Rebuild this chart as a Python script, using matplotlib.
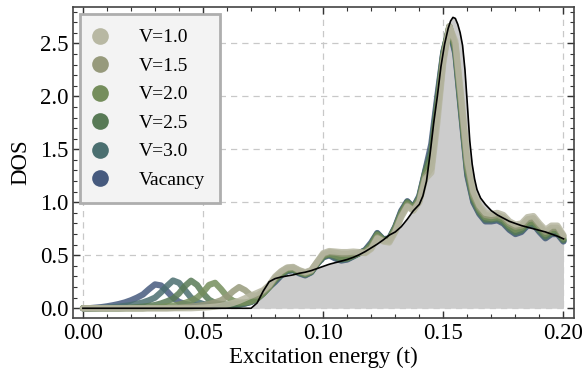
import matplotlib.pyplot as plt
import numpy as np
from matplotlib.lines import Line2D
from matplotlib.ticker import MultipleLocator

plt.rcParams['font.family'] = ['Liberation Serif', 'DejaVu Serif']

# energy grid of the sampled curves, step 0.0025 from 0 to 0.2
energy = np.linspace(0.0, 0.2, 81)

labels = ['V=1.0', 'V=1.5', 'V=2.0', 'V=2.5', 'V=3.0', 'Vacancy']
colors = ['#b8b8a3', '#979a7c', '#758e5c', '#587a56', '#4b6f70', '#465a7e']

dos_v10 = [0, 0, 0, 0, 0, 0, 0, 0, 0, 0, 0, 0, 0, 0, 0, 0, 0, 0, 0,
           .003, .006, .01, .015, .022, .035, .05, .07, .095, .12, .145, .17, .22,
           .30, .35, .385, .39, .36, .34, .36, .44, .52, .54, .535, .53, .53, .535,
           .53, .52, .56, .66, .63, .62, .72, .86, .96, .92, 1.0, 1.22, 1.28, 1.75,
           2.32, 2.66, 2.52, 1.98, 1.4, 1.1, .97, .90, .89, .90, .88, .82, .79, .80,
           .86, .87, .80, .74, .78, .78, .69]
dos_v15 = [0, 0, 0, 0, 0, 0, 0, 0, 0, 0, 0, 0, 0, 0, 0,
           .003, .006, .01, .015, .022, .03, .04, .055, .075, .11, .16, .20, .17,
           .12, .12, .16, .21,
           .29, .345, .38, .385, .355, .335, .355, .435, .51, .53, .525, .515, .515,
           .52, .525, .525, .57, .67, .635, .63, .73, .87, .97, .925, 1.01, 1.24,
           1.32, 1.82, 2.35, 2.66, 2.49, 1.94, 1.36, 1.07, .95, .88, .87, .88, .86,
           .80, .77, .78, .84, .85, .78, .72, .76, .76, .68]
dos_v20 = [0, 0, 0, 0, 0, 0, 0, 0, 0, 0, 0,
           .005, .008, .012, .018, .025, .035, .05, .07, .10, .15, .22, .24, .18,
           .11, .07, .055, .055, .065, .09, .14, .20,
           .28, .33, .37, .375, .345, .325, .35, .43, .50, .515, .50, .48, .48, .50,
           .52, .535, .59, .69, .64, .645, .75, .89, .99, .94, 1.03, 1.26, 1.40,
           1.88, 2.38, 2.66, 2.46, 1.9, 1.32, 1.05, .93, .86, .85, .86, .84, .78,
           .74, .76, .81, .82, .76, .70, .74, .74, .66]
dos_v25 = [0, 0, 0, 0, 0, 0, 0,
           .003, .006, .01, .015, .022, .03, .045, .065, .09, .14, .21, .26, .22,
           .14, .08, .05, .04, .035, .035, .04, .05, .065, .095, .14, .20,
           .27, .32, .36, .365, .34, .32, .345, .425, .49, .51, .49, .465, .47,
           .495, .52, .54, .60, .70, .645, .65, .76, .90, 1.0, .945, 1.04, 1.28,
           1.46, 1.92, 2.40, 2.66, 2.44, 1.86, 1.29, 1.03, .91, .84, .84, .85, .82,
           .76, .72, .74, .80, .80, .74, .68, .72, .72, .645]
dos_v30 = [0, 0, 0,
           .003, .006, .01, .015, .022, .03, .042, .055, .075, .10, .15, .21, .262,
           .24, .17, .10, .06, .04, .032, .03, .03, .03, .03, .035, .045, .06, .09,
           .14, .20,
           .26, .315, .355, .36, .335, .315, .34, .42, .485, .505, .48, .455, .465,
           .49, .52, .545, .61, .705, .65, .655, .765, .91, 1.005, .95, 1.05, 1.29,
           1.5, 1.96, 2.41, 2.65, 2.42, 1.84, 1.27, 1.01, .90, .83, .83, .84, .81,
           .75, .71, .73, .79, .795, .73, .67, .71, .71, .64]
dos_vac = [0, 0, .005, .01, .018, .028, .04, .055, .075, .10, .13, .18, .225, .215,
           .16, .10, .06, .04, .03, .025, .025, .025, .025, .025, .025, .03, .035,
           .045, .06, .09, .14, .20,
           .25, .31, .35, .36, .33, .31, .34, .42, .48, .50, .47, .45, .46, .49, .52,
           .55, .62, .71, .65, .66, .77, .92, 1.01, .95, 1.06, 1.30, 1.55, 2.0, 2.42,
           2.64, 2.40, 1.82, 1.25, 1.0, .89, .82, .82, .83, .80, .74, .70, .72, .78,
           .79, .72, .66, .70, .70, .63]

# clean system (black line), sampled finer around the peak
clean_energy = [0.0, 0.07, 0.0725, 0.075, 0.0775, 0.08, 0.0825, 0.085, 0.0875, 0.09,
                0.0925, 0.095, 0.0975, 0.1, 0.1025, 0.105, 0.1075, 0.11, 0.1125,
                0.115, 0.1175, 0.12, 0.1225, 0.125, 0.1275, 0.13, 0.1325, 0.135,
                0.1375, 0.14, 0.1415, 0.143, 0.1445, 0.146, 0.1475, 0.149, 0.1505,
                0.152, 0.153, 0.154, 0.155, 0.156, 0.157, 0.158, 0.159, 0.16, 0.161,
                0.162, 0.163, 0.164, 0.1655, 0.1675, 0.17, 0.1725, 0.175, 0.1775,
                0.18, 0.1825, 0.185, 0.1875, 0.19, 0.1925, 0.195, 0.1975, 0.2]
clean_dos = [0.0, 0.0, 0.05, 0.16, 0.25, 0.28, 0.295, 0.305, 0.315, 0.33,
             0.34, 0.355, 0.375, 0.395, 0.415, 0.43, 0.445, 0.46, 0.48,
             0.505, 0.535, 0.57, 0.605, 0.645, 0.69, 0.72, 0.77, 0.84,
             0.92, 0.98, 1.06, 1.2, 1.46, 1.75, 2.0, 2.28, 2.49,
             2.64, 2.71, 2.745, 2.735, 2.68, 2.6, 2.48, 2.25, 1.92, 1.58,
             1.36, 1.22, 1.12, 1.04, 0.98, 0.92, 0.88, 0.85, 0.82,
             0.80, 0.78, 0.765, 0.75, 0.735, 0.72, 0.70, 0.68, 0.655]

series = [dos_v10, dos_v15, dos_v20, dos_v25, dos_v30, dos_vac]

fig = plt.figure(figsize=(5.85, 3.77), dpi=100)
ax = fig.add_axes([0.1253, 0.1565, 0.8564, 0.8241])

ax.fill_between(clean_energy, clean_dos, 0, color='#cccccc', lw=0, zorder=1)
for dos, c in reversed(list(zip(series, colors))):
    ax.plot(energy, dos, color=c, lw=4.5, alpha=0.85, solid_capstyle='round',
            solid_joinstyle='round', zorder=2)
ax.plot(clean_energy, clean_dos, color='k', lw=1.2, zorder=3)

ax.set_xlim(-0.004, 0.2045)
ax.set_ylim(-0.092, 2.84)
ax.xaxis.set_major_locator(MultipleLocator(0.05))
ax.xaxis.set_minor_locator(MultipleLocator(0.01))
ax.yaxis.set_major_locator(MultipleLocator(0.5))
ax.yaxis.set_minor_locator(MultipleLocator(0.1))
ax.xaxis.set_major_formatter(plt.FormatStrFormatter('%.2f'))
ax.yaxis.set_major_formatter(plt.FormatStrFormatter('%.1f'))
ax.tick_params(which='both', direction='in', top=True, right=True,
               color='#333333', labelsize=16.5)
ax.tick_params(which='major', length=5, width=1)
ax.tick_params(which='minor', length=3, width=0.8)
for s in ax.spines.values():
    s.set_color('#444444')
    s.set_linewidth(1.2)
ax.grid(True, which='major', color='#c8c8c8', ls=(0, (5, 4)), lw=0.9, zorder=0)
ax.set_axisbelow(True)

ax.set_xlabel('Excitation energy (t)', fontsize=16.5, labelpad=2)
ax.set_ylabel('DOS', fontsize=16.5, labelpad=6)

handles = [Line2D([], [], ls='none', marker='o', markersize=12, color=c,
                  markeredgewidth=0) for c in colors]
leg = ax.legend(handles, labels, loc='upper left', fontsize=14, frameon=True,
                fancybox=False, framealpha=1, facecolor='#f3f3f3',
                edgecolor='#aeaeae', borderpad=0.75, handlelength=0.55,
                handletextpad=1.72, labelspacing=0.56, borderaxespad=0.35)
leg.get_frame().set_linewidth(2)

fig.savefig('out.png', dpi=100)
